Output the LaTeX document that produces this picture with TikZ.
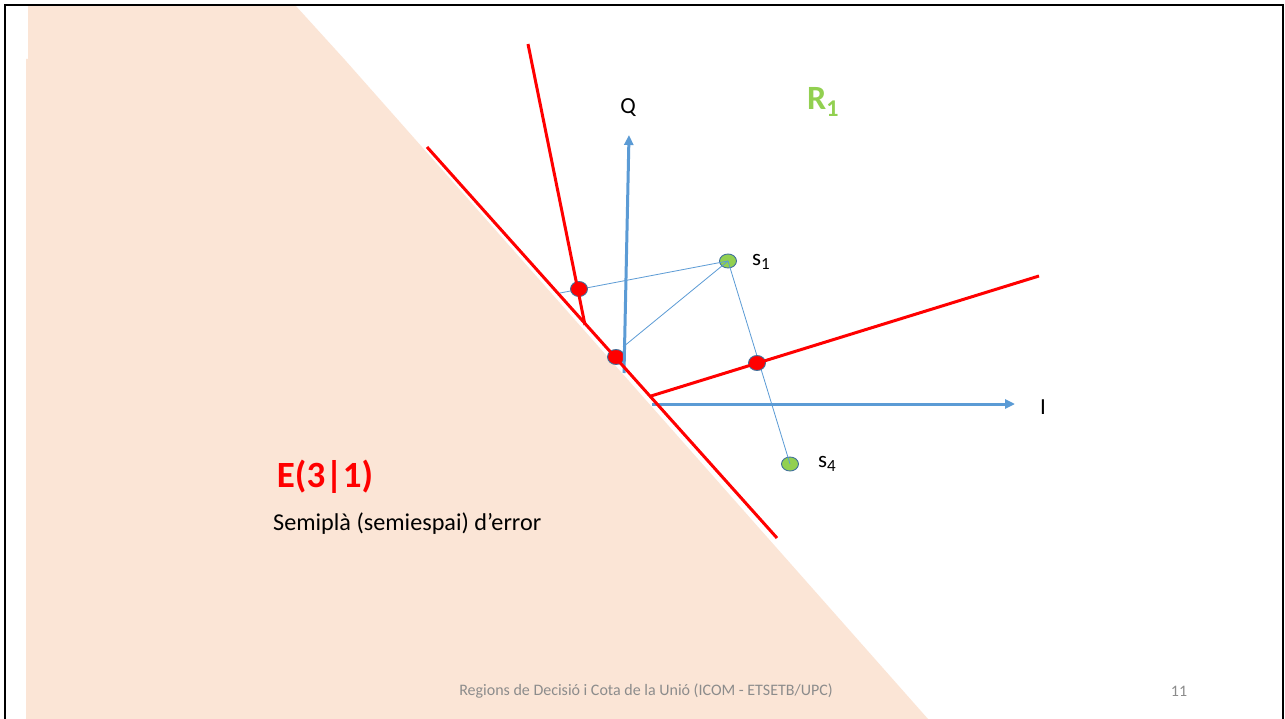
\documentclass[tikz,border=0pt]{standalone}
\usepackage{fontspec}
\setmainfont{Carlito}
\usetikzlibrary{shapes.geometric,arrows.meta}
\definecolor{peach}{HTML}{FBE5D6}
\definecolor{axblue}{HTML}{5B9BD5}
\definecolor{dotline}{HTML}{41719C}
\definecolor{grn}{HTML}{92D050}
\definecolor{foot}{HTML}{8C8C8C}
\tikzset{
  redline/.style={draw=red, line width=3pt},
  axis/.style={draw=axblue, line width=3pt, -{Triangle[length=10pt,width=9pt]}},
  thin/.style={draw=axblue, line width=0.8pt},
  reddot/.style={ellipse, draw=dotline, line width=0.9pt, fill=red, minimum width=17pt, minimum height=15pt, inner sep=0pt},
  grndot/.style={ellipse, draw=dotline, line width=0.9pt, fill=grn, minimum width=17pt, minimum height=14pt, inner sep=0pt},
  lbl/.style={inner sep=0pt, font=\fontsize{23}{26}\selectfont}
}
\begin{document}
\begin{tikzpicture}[x=1pt,y=-1pt]
\useasboundingbox (0,0) rectangle (1285,719);
\fill[white] (0,0) rectangle (1285,719);
% peach half-plane
\fill[peach] (28,5) -- (295,5) -- (345,60) -- (928,719) -- (26,719) -- (26,59) -- (28,59) -- cycle;
% frame
\draw[black, line width=2.5pt] (5,725) -- (5,5) -- (1283,5) -- (1283,725);
% coordinates
\coordinate (qbot) at (624,373);
\coordinate (qtop) at (629,135);
\coordinate (ibeg) at (652,404);
\coordinate (iend) at (1015,404);
\coordinate (l1a) at (427,147);
\coordinate (l1b) at (777,538);
\coordinate (l2a) at (528,44);
\coordinate (l2b) at (585,325);
\coordinate (l3a) at (651,396);
\coordinate (l3b) at (1039,276);
\coordinate (t1) at (560,293);
\coordinate (t2) at (623,347);
% green dots
\node[grndot] (s1) at (728,261) {};
\node[grndot] (s4) at (790,464) {};
% thin lines
\draw[thin] (s1.center) -- (t1);
\draw[thin] (s1.center) -- (t2);
\draw[thin] (s1.center) -- (s4.center);
% red dots
\node[reddot] (d1) at (579,289) {};
\node[reddot] (d2) at (616,357) {};
\node[reddot] (d3) at (757,363) {};
% axes
\draw[axis] (qbot) -- (qtop);
\draw[axis] (ibeg) -- (iend);
% red lines
\draw[redline] (l1a) -- (l1b);
\draw[redline] (l2a) -- (l2b);
\draw[redline] (l3a) -- (l3b);
% labels
\node[lbl] (lq) at (628,108) {Q};
\node[lbl] (li) at (1043,407) {I};
\node[lbl, anchor=west] (ls1) at (752,262) {s\raisebox{-0.35ex}{\fontsize{17}{19}\selectfont 1}};
\node[lbl, anchor=west] (ls4) at (818,464) {s\raisebox{-0.35ex}{\fontsize{17}{19}\selectfont 4}};
\node[inner sep=0pt, text=grn, font=\fontsize{34}{38}\selectfont\bfseries, anchor=west] (r1) at (807,102) {R\raisebox{-0.4ex}{\fontsize{24}{27}\selectfont 1}};
\node[inner sep=0pt, text=red, font=\fontsize{37}{42}\selectfont\bfseries] (e31) at (325,477) {E(3|1)};
\node[inner sep=0pt, anchor=west, font=\fontsize{24.2}{28}\selectfont] (semi) at (273,524) {Semiplà (semiespai) d’error};
\node[inner sep=0pt, text=foot, font=\fontsize{16}{19}\selectfont] (ft) at (646,691) {Regions de Decisió i Cota de la Unió (ICOM - ETSETB/UPC)};
\node[inner sep=0pt, text=foot, font=\fontsize{16}{19}\selectfont] (pg) at (1179,691) {11};
\end{tikzpicture}
\end{document}
